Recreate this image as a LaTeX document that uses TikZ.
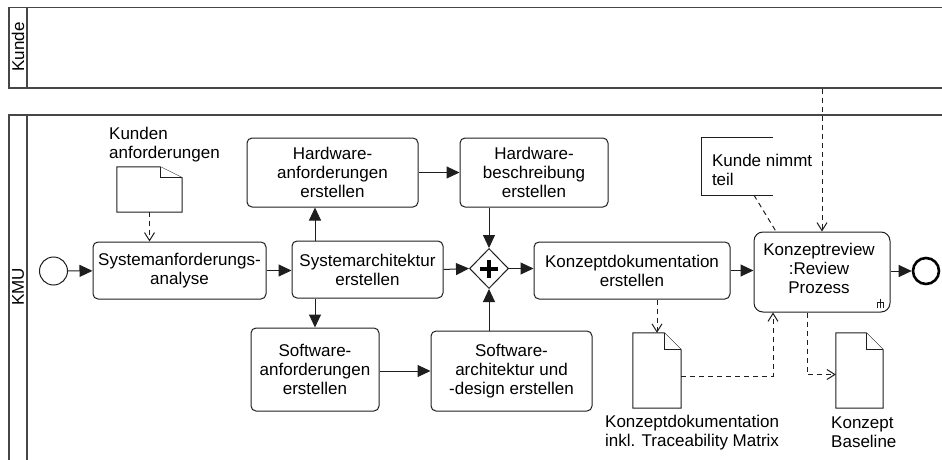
\documentclass[tikz,border=0pt]{standalone}
\usepackage{fontspec}
\setmainfont{Liberation Sans}
\usetikzlibrary{arrows.meta,shapes.geometric}
\definecolor{lc}{RGB}{30,30,30}
\definecolor{pc}{RGB}{70,70,70}
\tikzset{
  base/.style={font=\fontsize{17}{19}\selectfont, text=black},
  task/.style={base, draw=lc, line width=1pt, rounded corners=5pt, align=center, inner sep=0pt},
  docbox/.style={draw=none, inner sep=0pt},
  docline/.style={draw=lc, line width=1pt, fill=white},
  seq/.style={draw=lc, line width=1pt, -{Triangle[length=13pt,width=12pt]}},
  assoc/.style={draw=lc, line width=1pt, dash pattern=on 5pt off 4pt, -{Straight Barb[length=8pt,width=10pt]}},
  plainassoc/.style={draw=lc, line width=1pt, dash pattern=on 5pt off 4pt},
  pool/.style={draw=pc, line width=1.5pt, inner sep=0pt},
  lbl/.style={base, align=left, inner sep=0pt},
}
\begin{document}
\begin{tikzpicture}[x=1pt,y=-1pt]
\useasboundingbox (0,0) rectangle (942,460);

% pools
\node[pool, minimum width=952pt, minimum height=80pt, anchor=north west] (kunde) at (8,7) {};
\draw[pc, line width=1.5pt] ([xshift=19pt]kunde.north west) -- ([xshift=19pt]kunde.south west);
\node[base, rotate=90] (kundelbl) at (18,47) {Kunde};

\node[pool, minimum width=952pt, minimum height=360pt, anchor=north west] (kmu) at (8,114) {};
\draw[pc, line width=1.5pt] ([xshift=19pt]kmu.north west) -- ([xshift=19pt]kmu.south west);
\node[base, rotate=90] (kmulbl) at (18,287) {KMU};

% events
\node[circle, draw=lc, line width=1pt, minimum size=28pt, inner sep=0pt] (start) at (53.5,271) {};
\node[circle, draw=black, line width=2.6pt, minimum size=26pt, inner sep=0pt] (endev) at (926,271) {};

% tasks
\node[task, minimum width=173pt, minimum height=57pt] (sa) at (179.5,270.5) {Systemanforderungs-\\analyse};
\node[task, minimum width=151pt, minimum height=57pt] (sys) at (367.5,269.5) {Systemarchitektur\\erstellen};
\node[task, minimum width=171pt, minimum height=69pt] (hwa) at (332.5,172.5) {Hardware-\\anforderungen\\erstellen};
\node[task, minimum width=148pt, minimum height=69pt] (hwb) at (534,172.5) {Hardware-\\beschreibung\\erstellen};
\node[task, minimum width=128pt, minimum height=83pt] (swa) at (315,369.5) {Software-\\anforderungen\\erstellen};
\node[task, minimum width=161pt, minimum height=80pt] (swd) at (511.5,371) {Software-\\architektur und\\-design erstellen};
\node[task, minimum width=196pt, minimum height=57pt] (kd) at (632,270.5) {Konzeptdokumentation\\erstellen};
\node[task, rounded corners=9pt, minimum width=136pt, minimum height=80pt] (kr) at (822,272) {};
\node[base, align=center, inner sep=0pt] (krtxt) at (819,268) {Konzeptreview\\:Review\\Prozess};
% call marker
\draw[lc, line width=0.8pt] ([xshift=-10pt,yshift=14pt]kr.south east) -- ([xshift=-10pt,yshift=5pt]kr.south east)
  ([xshift=-13pt,yshift=5pt]kr.south east) -- ([xshift=-13pt,yshift=10pt]kr.south east) -- ([xshift=-7pt,yshift=10pt]kr.south east) -- ([xshift=-7pt,yshift=5pt]kr.south east);

% gateway
\node[diamond, draw=lc, line width=1pt, fill=white, minimum width=39pt, minimum height=40pt, inner sep=0pt] (gw) at (489,268.5) {};
\draw[black, line width=4pt] ([xshift=-9pt]gw.center) -- ([xshift=9pt]gw.center)
  ([yshift=-9pt]gw.center) -- ([yshift=9pt]gw.center);

% data objects
\node[docbox, minimum width=65pt, minimum height=45pt] (d1) at (149.5,189.5) {};
\draw[docline] (d1.south west) -- (d1.north west) -- ([xshift=-22pt]d1.north east) -- ([yshift=-11pt]d1.north east) -- (d1.south east) -- cycle;
\draw[docline] ([xshift=-22pt]d1.north east) |- ([yshift=-11pt]d1.north east);
\node[lbl, anchor=west] (d1lbl) at (109,145) {Kunden\\anforderungen};

\node[docbox, minimum width=48pt, minimum height=75pt] (dk) at (657,370.5) {};
\draw[docline] (dk.south west) -- (dk.north west) -- ([xshift=-17pt]dk.north east) -- ([yshift=-17pt]dk.north east) -- (dk.south east) -- cycle;
\draw[docline] ([xshift=-17pt]dk.north east) |- ([yshift=-17pt]dk.north east);
\node[lbl, anchor=west] (dklbl) at (605,432.5) {Konzeptdokumentation\\inkl. Traceability Matrix};

\node[docbox, minimum width=47pt, minimum height=75pt] (bl) at (859.5,370.5) {};
\draw[docline] (bl.south west) -- (bl.north west) -- ([xshift=-17pt]bl.north east) -- ([yshift=-17pt]bl.north east) -- (bl.south east) -- cycle;
\draw[docline] ([xshift=-17pt]bl.north east) |- ([yshift=-17pt]bl.north east);
\node[lbl, anchor=west] (bllbl) at (831,432.5) {Konzept\\Baseline};

% annotation
\node[docbox, minimum width=71pt, minimum height=57pt] (ann) at (737.5,166.5) {};
\draw[lc, line width=1pt] (ann.north east) -- (ann.north west) -- (ann.south west) -- (ann.south east);
\node[lbl, anchor=west] (anntxt) at ([xshift=10pt,yshift=-3pt]ann.west) {Kunde nimmt\\teil};

% sequence flows
\draw[seq] (start) -- (sa);
\draw[seq] (sa.east) -- (sa.east -| sys.west);
\draw[seq] (swa.north |- sys.north) -- (swa.north |- hwa.south);
\draw[seq] (swa.north |- sys.south) -- (swa.north);
\draw[seq] (hwa.east) -- (hwb.west);
\draw[seq] (gw.north |- hwb.south) -- (gw.north);
\draw[seq] (sys.east) -- (gw.west);
\draw[seq] (swa.east |- swd.west) -- (swd.west);
\draw[seq] (gw.south |- swd.north) -- (gw.south);
\draw[seq] (gw.east) -- (gw.east -| kd.west);
\draw[seq] (kd.east) -- (kd.east -| kr.west);
\draw[seq] (kr.east |- endev.west) -- (endev.west);

% associations / message flow
\draw[assoc] (d1.south) -- (d1.south |- sa.north);
\draw[assoc] (dk.north |- kd.south) -- (dk.north);
\draw[assoc] ([yshift=-5.5pt]dk.east) -| ([xshift=-49pt]kr.south);
\draw[assoc] ([xshift=-15pt]kr.south) |- ([yshift=-4pt]bl.west);
\draw[assoc] (kr.north |- kunde.south) -- (kr.north);
\draw[plainassoc] ([xshift=16.5pt]ann.south) -- ([xshift=-46pt]kr.north);
\end{tikzpicture}
\end{document}
